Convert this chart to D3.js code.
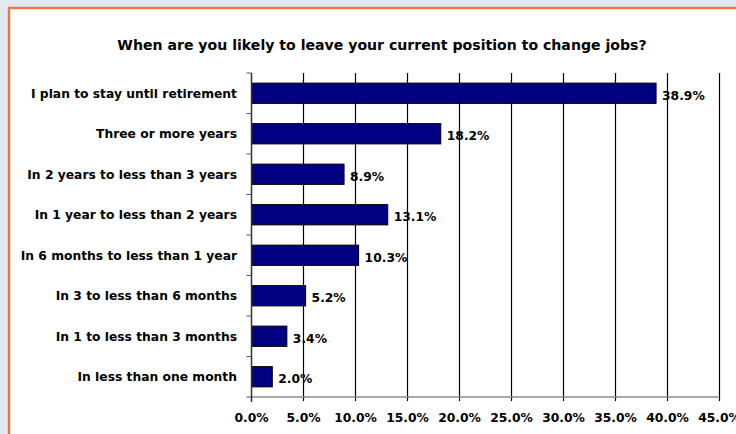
<!DOCTYPE html>
<html>
<head>
<meta charset="utf-8">
<script src="https://cdn.jsdelivr.net/npm/d3@7"></script>
<style>
  html, body { margin: 0; padding: 0; background: #e3e9f1; }
  svg { display: block; }
  text { font-family: "DejaVu Sans", "Liberation Sans", Arial, sans-serif; font-weight: bold; fill: #000; }
</style>
</head>
<body>
<svg id="chart" width="736" height="434"></svg>
<script>
// Survey answers, top to bottom
const categories = [
  "I plan to stay until retirement",
  "Three or more years",
  "In 2 years to less than 3 years",
  "In 1 year to less than 2 years",
  "In 6 months to less than 1 year",
  "In 3 to less than 6 months",
  "In 1 to less than 3 months",
  "In less than one month"
];
// Share of respondents, percent
const values = [38.9, 18.2, 8.9, 13.1, 10.3, 5.2, 3.4, 2.0];
const xTicks = [0, 5, 10, 15, 20, 25, 30, 35, 40, 45];
const title = "When are you likely to leave your current position to change jobs?";

const svg = d3.select("#chart");

// White panel with orange frame
svg.append("rect")
  .attr("x", 9).attr("y", 8)
  .attr("width", 740).attr("height", 440)
  .attr("fill", "#fff")
  .attr("stroke", "#f2733f")
  .attr("stroke-width", 2.4);

const plot = { left: 251.5, right: 719.5, top: 73, bottom: 397 };

const x = d3.scaleLinear().domain([0, 45]).range([plot.left, plot.right]);
const y = d3.scaleBand().domain(categories).range([plot.top, plot.bottom]).paddingInner(0.5).paddingOuter(0.25);
const yEdges = d3.scaleBand().domain(categories).range([plot.top, plot.bottom]);

svg.append("text")
  .attr("x", 382).attr("y", 49.5)
  .attr("text-anchor", "middle")
  .attr("font-size", 14.1)
  .text(title);

// Vertical gridlines
svg.append("g")
  .selectAll("line")
  .data(xTicks.slice(1))
  .join("line")
  .attr("x1", d => x(d)).attr("x2", d => x(d))
  .attr("y1", plot.top).attr("y2", plot.bottom + 4)
  .attr("stroke", "#000").attr("stroke-width", 1.2);

// Bottom axis line
svg.append("line")
  .attr("x1", plot.left - 5).attr("x2", plot.right)
  .attr("y1", plot.bottom).attr("y2", plot.bottom)
  .attr("stroke", "#8c8c8c").attr("stroke-width", 1.5);

// Bars
svg.append("g")
  .selectAll("rect")
  .data(values)
  .join("rect")
  .attr("x", x(0))
  .attr("y", (d, i) => y(categories[i]))
  .attr("width", d => x(d) - x(0))
  .attr("height", y.bandwidth())
  .attr("fill", "#000080")
  .attr("stroke", "#000")
  .attr("stroke-width", 1);

// Left axis with category-boundary ticks
const left = svg.append("g");
left.append("line")
  .attr("x1", plot.left).attr("x2", plot.left)
  .attr("y1", plot.top).attr("y2", plot.bottom + 5)
  .attr("stroke", "#333").attr("stroke-width", 1.5);
left.selectAll("line.tk")
  .data(categories)
  .join("line")
  .attr("class", "tk")
  .attr("x1", plot.left - 5).attr("x2", plot.left)
  .attr("y1", d => yEdges(d)).attr("y2", d => yEdges(d))
  .attr("stroke", "#555").attr("stroke-width", 1);

// Category labels
svg.append("g")
  .selectAll("text")
  .data(categories)
  .join("text")
  .attr("x", 237)
  .attr("y", d => y(d) + y.bandwidth() / 2)
  .attr("dy", "0.35em")
  .attr("text-anchor", "end")
  .attr("font-size", 12.3)
  .text(d => d);

// Value labels
svg.append("g")
  .selectAll("text")
  .data(values)
  .join("text")
  .attr("x", d => x(d) + 6)
  .attr("y", (d, i) => y(categories[i]) + y.bandwidth() / 2 + 2)
  .attr("dy", "0.35em")
  .attr("font-size", 12.3)
  .text(d => d.toFixed(1) + "%");

// X tick labels
svg.append("g")
  .selectAll("text")
  .data(xTicks)
  .join("text")
  .attr("x", d => x(d))
  .attr("y", 418)
  .attr("dy", "0.35em")
  .attr("text-anchor", "middle")
  .attr("font-size", 12.3)
  .text(d => d.toFixed(1) + "%");
</script>
</body>
</html>
